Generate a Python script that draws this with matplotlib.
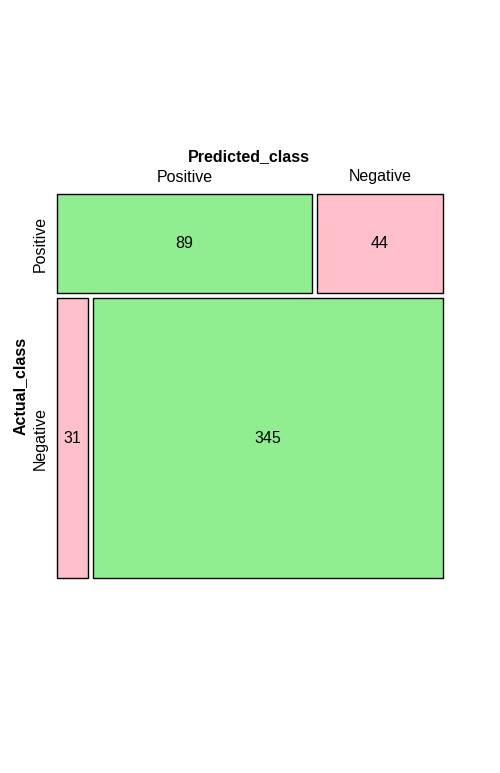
import matplotlib.pyplot as plt
from matplotlib.patches import Rectangle

plt.rcParams['font.family'] = ['Liberation Sans', 'DejaVu Sans']

# confusion matrix counts: rows = actual, cols = predicted
actual_labels = ["Positive", "Negative"]
predicted_labels = ["Positive", "Negative"]
counts = [[89, 44],
          [31, 345]]
cell_colors = [["lightgreen", "pink"],
               ["pink", "lightgreen"]]

W, H = 500, 773
fig = plt.figure(figsize=(W / 100, H / 100), dpi=100)

# mosaic area in pixels
left, right, top, bottom = 57, 443, 194, 578
ax = fig.add_axes([left / W, 1 - bottom / H, (right - left) / W, (bottom - top) / H])
ax.set_xlim(0, 1)
ax.set_ylim(1, 0)
ax.axis("off")

gap_x = 5 / (right - left)
gap_y = 5 / (bottom - top)

total = sum(sum(r) for r in counts)
row_tot = [sum(r) for r in counts]

y0 = 0
row_centers = []
top_col_centers = []
for i, row in enumerate(counts):
    h = (1 - gap_y) * row_tot[i] / total
    x0 = 0
    for j, v in enumerate(row):
        w = (1 - gap_x) * v / row_tot[i]
        ax.add_patch(Rectangle((x0, y0), w, h, facecolor=cell_colors[i][j],
                               edgecolor="black", linewidth=1, clip_on=False))
        ax.text(x0 + w / 2, y0 + h / 2, str(v), ha="center", va="center", fontsize=11.5)
        if i == 0:
            top_col_centers.append(x0 + w / 2)
        x0 += w + gap_x
    row_centers.append(y0 + h / 2)
    y0 += h + gap_y

# column labels above the top row
for j, lab in enumerate(predicted_labels):
    ax.text(top_col_centers[j], -17 / (bottom - top), lab, ha="center", va="center",
            fontsize=11.5)
ax.text((249 - left) / (right - left), -37 / (bottom - top), "Predicted_class",
        ha="center", va="center", fontsize=11.5, fontweight="bold")

# row labels on the left
for i, lab in enumerate(actual_labels):
    ax.text(-17 / (right - left), row_centers[i], lab, ha="center", va="center",
            rotation=90, fontsize=11.5)
ax.text(-37 / (right - left), 0.5, "Actual_class", ha="center", va="center",
        rotation=90, fontsize=11.5, fontweight="bold")

fig.savefig("out.png", dpi=100)
